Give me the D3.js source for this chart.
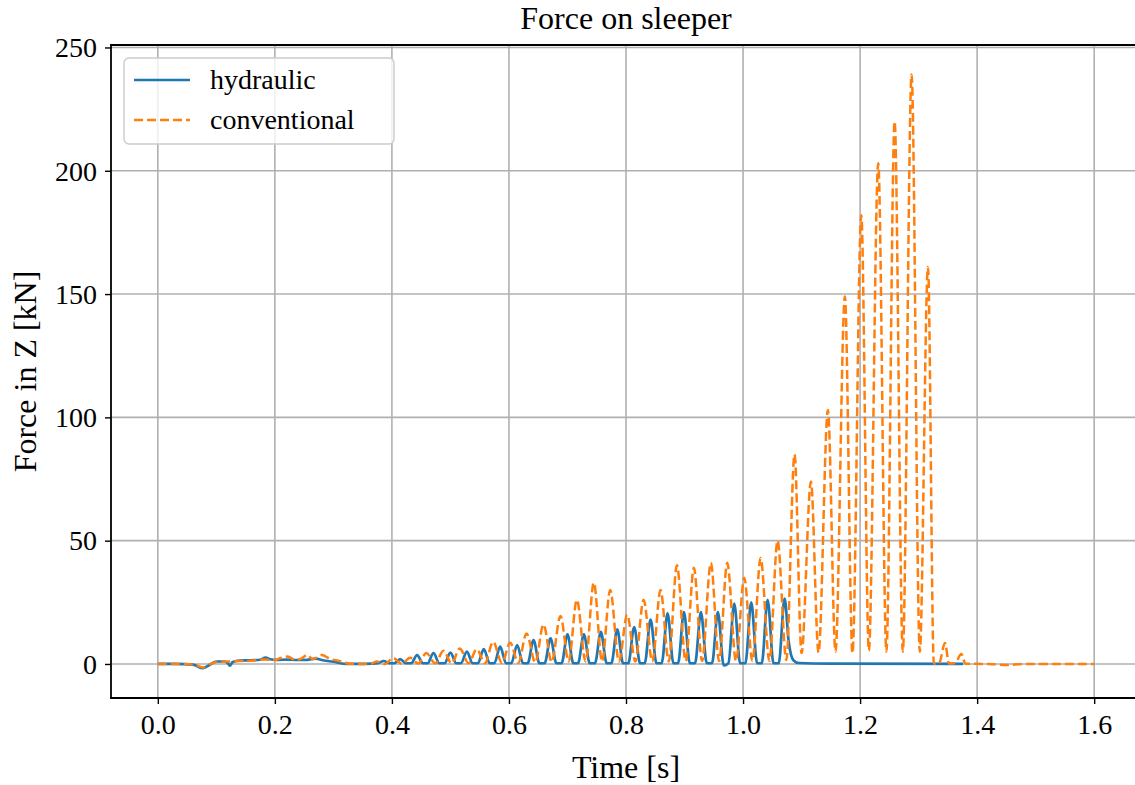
<!DOCTYPE html>
<html>
<head>
<meta charset="utf-8">
<script src="https://cdn.jsdelivr.net/npm/d3@7"></script>
<style>
  html, body { margin: 0; padding: 0; background: #fff; }
  svg { display: block; }
  text { font-family: "Liberation Serif", "DejaVu Serif", serif; fill: #000; }
</style>
</head>
<body>
<svg id="chart" width="1135" height="785"></svg>
<script>
// ---------------- data ----------------
const title = "Force on sleeper";
const xLabel = "Time [s]";
const yLabel = "Force in Z [kN]";
const seriesNames = ["hydraulic", "conventional"];
const xTickValues = [0.0, 0.2, 0.4, 0.6, 0.8, 1.0, 1.2, 1.4, 1.6];
const yTickValues = [0, 50, 100, 150, 200, 250];

// hydraulic: [time s, force kN]
const hydraulic = [
  [0.000, 0.0], [0.030, 0.0], [0.060, -0.3], [0.077, -1.7], [0.090, -0.2], [0.100, 1.0],
  [0.112, 1.0], [0.119, 0.5], [0.123, -0.7], [0.128, 0.8], [0.140, 1.4], [0.160, 1.5],
  [0.175, 1.7], [0.184, 2.6], [0.192, 1.9], [0.203, 1.6], [0.220, 1.8], [0.237, 1.6],
  [0.255, 1.7], [0.270, 2.2], [0.282, 1.5], [0.300, 0.9], [0.323, 0.0], [0.345, 0.0],
  [0.365, 0.1], [0.376, 0.3],
  [0.386, 1.2], [0.396, 0.3], [0.404, 0.3],
  [0.414, 2.0], [0.424, 0.3], [0.433, 0.3],
  [0.443, 3.6], [0.453, 0.3], [0.461, 0.3],
  [0.471, 4.4], [0.481, 0.3], [0.490, 0.3],
  [0.500, 4.6], [0.510, 0.3], [0.518, 0.3],
  [0.528, 5.0], [0.538, 0.3], [0.547, 0.3],
  [0.557, 6.0], [0.567, 0.3], [0.575, 0.3],
  [0.585, 7.0], [0.595, 0.3], [0.604, 0.3],
  [0.614, 7.7], [0.624, 0.3], [0.632, 0.3],
  [0.642, 9.7], [0.652, 0.3], [0.661, 0.3],
  [0.671, 10.4], [0.681, 0.3], [0.690, 0.3],
  [0.700, 12.0], [0.710, 0.3], [0.718, 0.3],
  [0.728, 12.0], [0.738, 0.3], [0.747, 0.3],
  [0.757, 13.0], [0.767, 0.3], [0.775, 0.3],
  [0.785, 14.0], [0.795, 0.3], [0.804, 0.3],
  [0.814, 15.0], [0.824, 0.3], [0.832, 0.3],
  [0.842, 18.0], [0.852, 0.3], [0.861, 0.3],
  [0.871, 20.5], [0.881, 0.3], [0.889, 0.3],
  [0.899, 21.0], [0.909, 0.3], [0.918, 0.3],
  [0.928, 21.0], [0.938, 0.3], [0.947, 0.3],
  [0.957, 21.0], [0.967, -0.6], [0.975, 0.3],
  [0.985, 24.5], [0.995, 0.3], [1.004, 0.3],
  [1.014, 25.0], [1.024, 0.3], [1.032, 0.3],
  [1.042, 26.0], [1.052, 0.3], [1.061, 0.3],
  [1.071, 26.5], [1.078, 9.0], [1.086, 1.5], [1.095, 0.4], [1.150, 0.1], [1.376, 0.0]
];

// conventional: [time s, force kN]
const conventional = [
  [0.000, 0.0], [0.030, 0.0], [0.060, -0.2], [0.077, -1.4], [0.090, 0.0], [0.100, 0.8],
  [0.120, 1.0], [0.140, 1.2], [0.160, 1.3], [0.180, 1.8], [0.200, 1.6], [0.210, 2.4],
  [0.222, 3.0], [0.235, 1.6], [0.245, 2.2], [0.255, 3.6], [0.265, 2.0], [0.280, 3.6],
  [0.295, 2.0], [0.310, 1.2], [0.328, 0.1], [0.350, 0.0], [0.365, 0.2],
  [0.374, 1.0], [0.388, 0.0], [0.402, 2.4], [0.417, 0.1], [0.431, 2.5], [0.445, 0.2],
  [0.459, 4.4], [0.474, 0.2], [0.488, 5.4], [0.502, 0.2], [0.516, 6.3], [0.531, 0.3],
  [0.545, 6.0], [0.559, 0.3], [0.573, 9.0], [0.588, 0.4], [0.602, 8.6], [0.616, 0.5],
  [0.630, 12.4], [0.645, 0.6], [0.659, 16.0], [0.673, 0.8], [0.688, 19.5], [0.702, 1.0],
  [0.716, 26.0], [0.731, 1.0], [0.745, 33.0], [0.759, 1.0], [0.773, 30.0], [0.788, 1.0],
  [0.802, 20.0], [0.816, 1.0], [0.830, 26.0], [0.845, 1.0], [0.859, 30.0], [0.873, 1.0],
  [0.887, 40.0], [0.902, 1.2], [0.916, 39.0], [0.930, 1.2], [0.945, 41.0], [0.959, 1.2],
  [0.973, 41.0], [0.988, 1.2], [1.002, 35.0], [1.016, 1.2], [1.030, 43.0], [1.045, 1.2],
  [1.059, 50.0], [1.074, 1.6], [1.088, 85.0], [1.100, 4.4], [1.116, 74.0], [1.129, 4.6],
  [1.145, 103.0], [1.158, 5.0], [1.174, 149.0], [1.187, 4.4], [1.202, 182.0], [1.215, 5.4],
  [1.231, 203.0], [1.245, 5.0], [1.259, 220.0], [1.273, 5.0], [1.288, 239.0], [1.302, 5.0],
  [1.316, 161.0], [1.326, 0.2], [1.335, 0.3], [1.345, 8.5], [1.352, 0.2], [1.362, 0.3],
  [1.373, 4.0], [1.380, 0.1], [1.420, 0.0], [1.450, -0.4], [1.480, 0.0], [1.600, 0.0]
];

// ---------------- drawing ----------------
const colors = ["#1f77b4", "#ff7f0e"];
const svg = d3.select("#chart");
const L = 111, R = 1141, T = 45, B = 698;

const x = d3.scaleLinear().domain([-0.08, 1.68]).range([L, R]);
const y = d3.scaleLinear().domain([-13.8, 251]).range([B, T]);

svg.append("defs").append("clipPath").attr("id", "clip")
  .append("rect").attr("x", L).attr("y", T).attr("width", R - L).attr("height", B - T);

// grid
const grid = svg.append("g");
grid.selectAll("line.gx").data(xTickValues).join("line")
  .attr("x1", d => x(d)).attr("x2", d => x(d)).attr("y1", T).attr("y2", B)
  .attr("stroke", "#b0b0b0").attr("stroke-width", 1.6);
grid.selectAll("line.gy").data(yTickValues).join("line")
  .attr("x1", L).attr("x2", R).attr("y1", d => y(d)).attr("y2", d => y(d))
  .attr("stroke", "#b0b0b0").attr("stroke-width", 1.6);

// lines
const line = d3.line().x(d => x(d[0])).y(d => y(d[1])).curve(d3.curveMonotoneX);
const plot = svg.append("g").attr("clip-path", "url(#clip)");
plot.append("path").datum(hydraulic).attr("d", line)
  .attr("fill", "none").attr("stroke", colors[0]).attr("stroke-width", 2.7)
  .attr("stroke-linejoin", "round");
plot.append("path").datum(conventional).attr("d", line)
  .attr("fill", "none").attr("stroke", colors[1]).attr("stroke-width", 2.5)
  .attr("stroke-dasharray", "9,4");

// axes
const xAxis = d3.axisBottom(x).tickValues(xTickValues).tickFormat(d3.format(".1f"))
  .tickSizeOuter(0).tickSize(6).tickPadding(10);
const yAxis = d3.axisLeft(y).tickValues(yTickValues).tickFormat(d3.format("d"))
  .tickSizeOuter(0).tickSize(6).tickPadding(8);

const gx = svg.append("g").attr("transform", `translate(0,${B})`).call(xAxis);
const gy = svg.append("g").attr("transform", `translate(${L},0)`).call(yAxis);
[gx, gy].forEach(g => {
  g.select(".domain").remove();
  g.selectAll(".tick line").attr("stroke", "#000").attr("stroke-width", 1.4);
  g.selectAll(".tick text").style("font-family", '"Liberation Serif", serif')
    .style("font-size", "28px").attr("fill", "#000");
});
gx.selectAll(".tick text").attr("dy", "0.72em");
gy.selectAll(".tick text").attr("dy", "0.33em");

// spines (left, bottom, top; right lies outside the picture)
const sp = svg.append("g").attr("stroke", "#000").attr("stroke-width", 1.8).attr("stroke-linecap", "square");
sp.append("line").attr("x1", L).attr("x2", L).attr("y1", T).attr("y2", B);
sp.append("line").attr("x1", L).attr("x2", R).attr("y1", B).attr("y2", B);
sp.append("line").attr("x1", L).attr("x2", R).attr("y1", T).attr("y2", T);

// titles
svg.append("text").attr("x", (L + R) / 2).attr("y", 29).attr("text-anchor", "middle")
  .style("font-size", "32px").text(title);
svg.append("text").attr("x", (L + R) / 2).attr("y", 778).attr("text-anchor", "middle")
  .style("font-size", "32px").text(xLabel);
svg.append("text").attr("transform", `translate(36,${(T + B) / 2}) rotate(-90)`)
  .attr("text-anchor", "middle").style("font-size", "32px").text(yLabel);

// legend
const lg = svg.append("g");
lg.append("rect").attr("x", 124).attr("y", 58).attr("width", 270).attr("height", 86)
  .attr("rx", 5).attr("fill", "#fff").attr("fill-opacity", 0.8)
  .attr("stroke", "#cccccc").attr("stroke-width", 1.4);
seriesNames.forEach((name, i) => {
  const yy = 80 + i * 40;
  lg.append("line").attr("x1", 134).attr("x2", 190).attr("y1", yy).attr("y2", yy)
    .attr("stroke", colors[i]).attr("stroke-width", i === 0 ? 2.7 : 2.5)
    .attr("stroke-dasharray", i === 0 ? null : "9,4");
  lg.append("text").attr("x", 210).attr("y", yy + 9).style("font-size", "28px").text(name);
});
</script>
</body>
</html>
